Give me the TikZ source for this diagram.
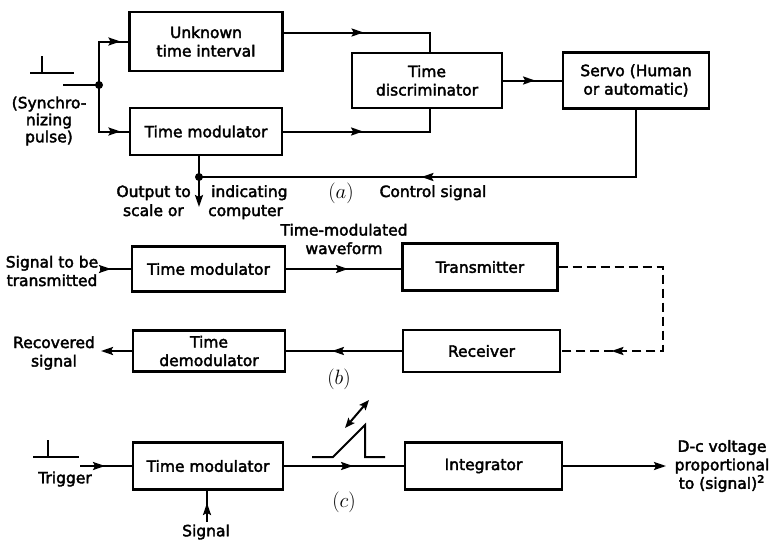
\documentclass[tikz,border=0pt]{standalone}
\usepackage{fontspec}
\setmainfont{DejaVu Sans}[UprightFeatures={FakeBold=2.5}]
\usetikzlibrary{arrows.meta,decorations.markings}
\newcommand\dfont{\fontsize{15.5}{18.5}\selectfont}
\newcommand\lfont{\fontsize{20}{22}\selectfont}
\begin{document}
\begin{tikzpicture}[x=1pt,y=-1pt,
  box/.style={draw,line width=2.2pt,align=center,inner sep=0pt,font=\dfont},
  lbl/.style={align=center,inner sep=0pt,font=\dfont},
  wire/.style={line width=2pt},
  marr/.style={postaction={decorate},decoration={markings,mark=at position #1 with {\arrow{Stealth[length=12pt,width=8pt,inset=2pt]}}}},
  tipend/.style={-{Stealth[length=12pt,width=8pt,inset=2pt]}},
  dot/.style={circle,fill,inner sep=0pt,minimum size=8pt}]
\useasboundingbox (0,0) rectangle (773,541);

% ---------- (a) ----------
\node[box,minimum width=153pt,minimum height=59pt] (ut) at (206,41.5) {Unknown\\time interval};
\node[box,minimum width=152pt,minimum height=47pt] (tma) at (206,131.5) {Time modulator};
\node[box,minimum width=150pt,minimum height=55pt] (td) at (427,80.5) {Time\\discriminator};
\node[box,minimum width=146pt,minimum height=56pt] (sv) at (636,80.5) {Servo (Human\\or automatic)};

\draw[wire] (30,73) -- (74,73);
\draw[wire] (42,56) -- (42,73);
\coordinate (pa) at (63,85);
\node[dot] (j1) at (99,85) {};
\draw[wire] (pa) -- (j1.center);
\draw[wire,marr=65pt] (j1.center) |- (ut.west);
\draw[wire,marr=68pt] (j1.center) |- (tma.west);
\draw[wire,marr=80pt] ([yshift=9pt]ut.east) -| ([xshift=3pt]td.north);
\draw[wire,marr=80pt] (tma.east) -| ([xshift=3pt]td.south);
\draw[wire,marr=32pt] (td.east) -- (sv.west);
\node[dot] (j2) at (199,177) {};
\coordinate (oa) at (199,207);
\draw[wire,marr=282pt] (sv.south) |- (j2.center);
\draw[wire,tipend] ([xshift=-7pt]tma.south) -- (oa);

\node[lbl] (sync) at (49,121) {(Synchro-\\[-1.5pt]nizing\\[-1.5pt]pulse)};
\node[lbl,anchor=base east] (out1) at (191,197) {Output to};
\node[lbl,anchor=base west] (out2) at (211,197) {indicating};
\node[lbl,anchor=base east] (out3) at (184,216) {scale or};
\node[lbl,anchor=base west] (out4) at (208,216) {computer};
\node[lbl,anchor=base,font=\lfont] (la) at (341,198) {$(a)$};
\node[lbl,anchor=base] (ctl) at (433,197) {Control signal};

% ---------- (b) ----------
\node[box,minimum width=153pt,minimum height=45pt] (tmb) at (208.5,269) {Time modulator};
\node[box,minimum width=155pt,minimum height=47pt] (tx) at (480,267) {Transmitter};
\node[box,minimum width=157pt,minimum height=42pt] (rx) at (481.5,351) {Receiver};
\node[box,minimum width=152pt,minimum height=41pt] (dm) at (209,351) {Time\\demodulator};

\coordinate (ib) at (100,269);
\draw[wire,marr=11pt] (ib) -- (tmb.west);
\draw[wire,marr=62pt] (tmb.east) -- (tmb.east -| tx.west);
\coordinate (cb) at (663,351);
\draw[wire,dash pattern=on 9pt off 5pt,marr=240pt] (tx.east) -| (cb) -- (rx.east);
\draw[wire,marr=70pt] (rx.west) -- (rx.west -| dm.east);
\coordinate (ob) at (101,351);
\draw[wire,tipend] (dm.west) -- (ob);

\node[lbl] (sig) at (52,271) {Signal to be\\transmitted};
\node[lbl] (rec) at (54,353) {Recovered\\signal};
\node[lbl] (tmw) at (344,239) {Time-modulated\\waveform};
\node[lbl,font=\lfont] (lb) at (339,379) {$(b)$};

% ---------- (c) ----------
\node[box,minimum width=150pt,minimum height=47pt] (tmc) at (208,466) {Time modulator};
\node[box,minimum width=157pt,minimum height=47pt] (int) at (483.5,466) {Integrator};

\draw[wire] (33,457) -- (79,457);
\draw[wire] (48,440) -- (48,457);
\coordinate (ic) at (80,466);
\draw[wire,marr=25pt] (ic) -- (tmc.west);
\coordinate (sc) at (207,522);
\draw[wire,marr=19pt] (sc) -- (sc |- tmc.south);
\draw[wire,marr=69pt] (tmc.east) -- (int.west);
\coordinate (oc) at (666,466);
\draw[wire,tipend] (int.east) -- (oc);

\draw[wire] (312,457) -- (333,457) -- (365,425) -- (365,457) -- (385,457);
\draw[wire,{Stealth[length=10pt,width=8pt,inset=2pt]}-{Stealth[length=10pt,width=8pt,inset=2pt]}] (345,428) -- (369,400);

\node[lbl] (trg) at (65,479) {Trigger};
\node[lbl] (sgl) at (206,532) {Signal};
\node[lbl,font=\lfont] (lc) at (344,502) {$(c)$};
\node[lbl] (dcv) at (722,466) {D-c voltage\\proportional\\to (signal)\textsuperscript{\textbf{2}}};
\end{tikzpicture}
\end{document}
